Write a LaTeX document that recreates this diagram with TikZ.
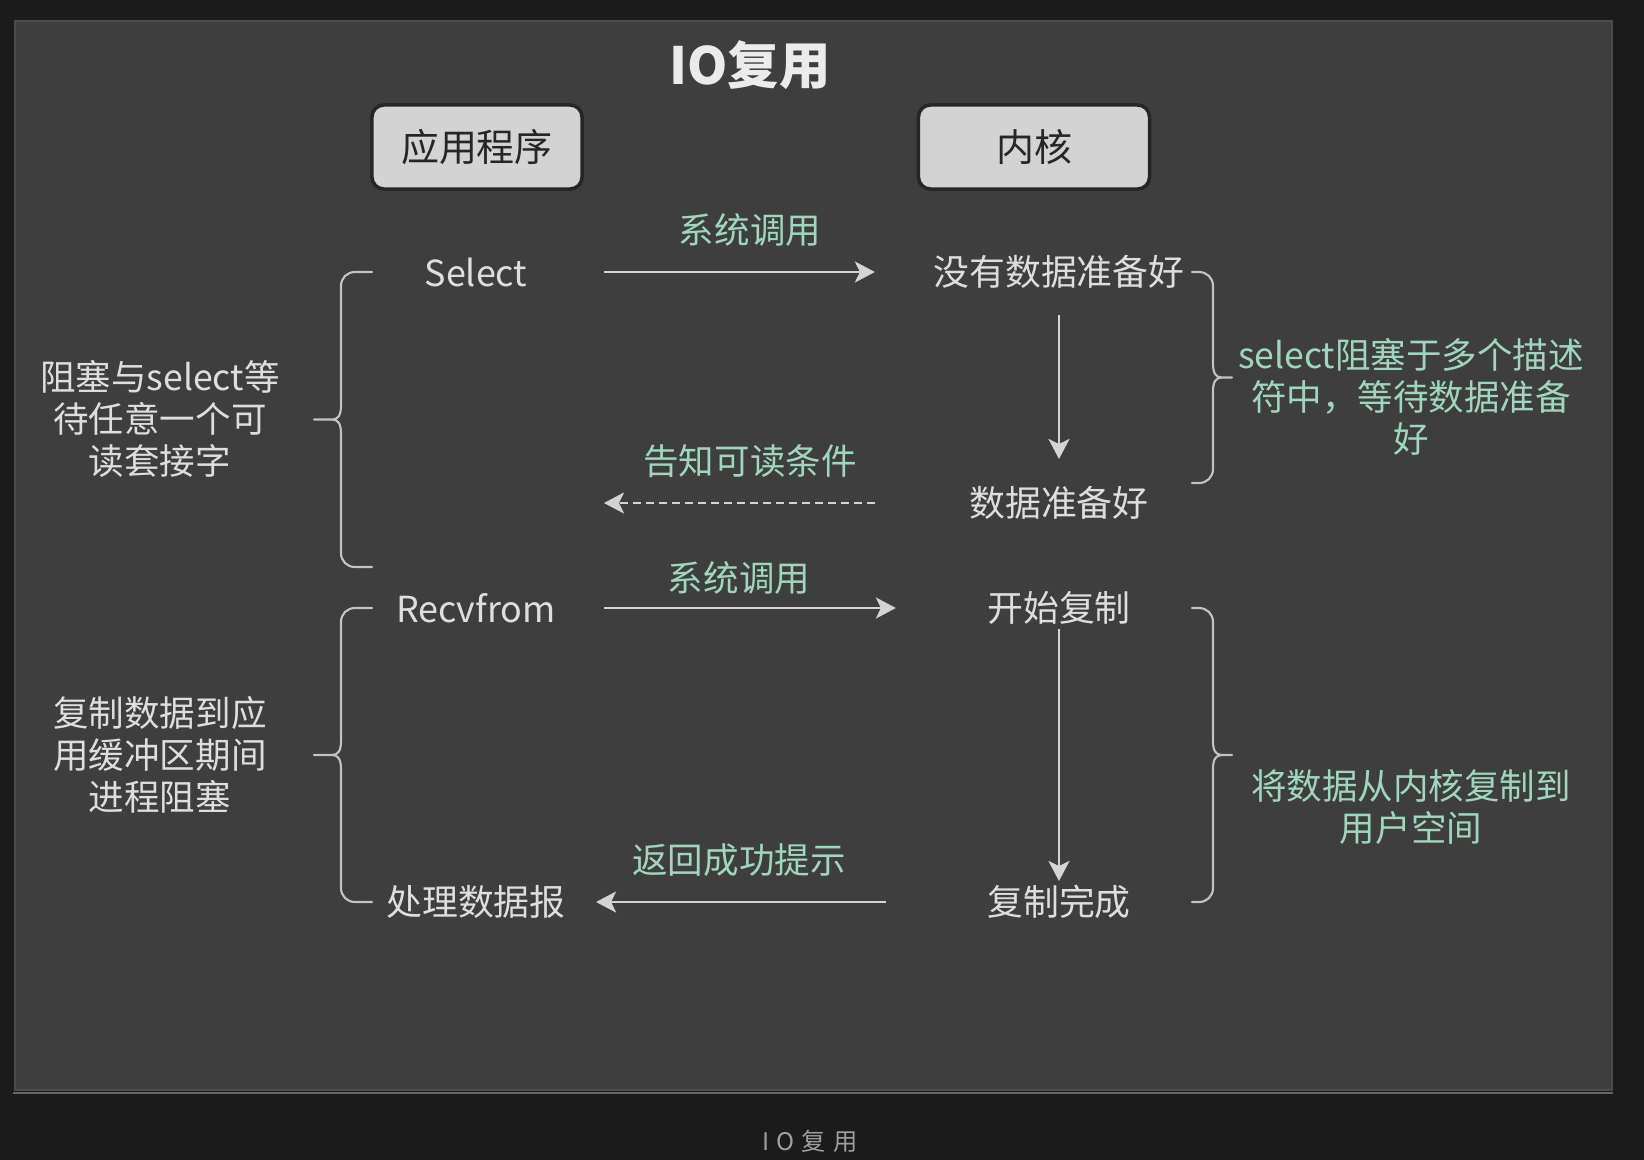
\documentclass[tikz,border=0pt]{standalone}
\usepackage{fontspec}
\setmainfont{Noto Sans CJK SC}
\usepackage{xcolor}
\usepackage{tikz}
\usetikzlibrary{arrows.meta}
\definecolor{outerdark}{HTML}{1B1B1B}
\definecolor{panelgray}{HTML}{3E3E3E}
\definecolor{textgray}{HTML}{DEDEDE}
\definecolor{mintgreen}{HTML}{A0D6BE}
\definecolor{boxgray}{HTML}{D3D3D3}
\definecolor{linegray}{HTML}{D4D4D4}
\tikzstyle{arrow} = [line width=0.7pt, draw=linegray, -{Stealth[length=0.2cm, width=0.21cm, inset=0.05cm]}]
\tikzstyle{bracket} = [line width=0.6pt, draw=linegray!92!black, line cap=round]

\begin{document}
\begin{tikzpicture}[
    x=0.01cm, y=-0.01cm,
    party/.style={rectangle, rounded corners=0.12cm, draw=black!85, line width=1pt, fill=boxgray, minimum height=0.84cm, text=black!85, font=\fontsize{10.8}{13}\selectfont},
    msg/.style={text=textgray, inner sep=0pt, font=\fontsize{10.2}{12}\selectfont},
    call/.style={text=mintgreen, inner sep=0pt, font=\fontsize{10.1}{12}\selectfont},
    note/.style={align=center, inner sep=0pt, font=\fontsize{10.1}{12}\selectfont}]
    \useasboundingbox (0,0) rectangle (1644,1160);
    \fill[outerdark] (0,0) rectangle (1644,1160);
    \filldraw[fill=panelgray, draw=black!70, line width=0.5pt] (15,21) rectangle (1612,1090);
    \draw[gray!80!black, line width=0.8pt] (13,1093) -- (1613,1093);
    \node[text=white!92!black, font=\fontsize{14.6}{17}\selectfont\bfseries] (title) at (750,65) {IO复用};
    \node[party, minimum width=2.1cm] (app) at (477,147) {应用程序};
    \node[party, minimum width=2.31cm] (kernel) at (1034,147) {内核};
    \node[msg] (select) at (476,272) {Select};
    \node[msg] (nodata) at (1059,272) {没有数据准备好};
    \node[msg] (ready) at (1059,503) {数据准备好};
    \node[msg] (recv) at (476,608) {Recvfrom};
    \node[msg] (startcopy) at (1059,608) {开始复制};
    \node[msg] (done) at (1059,902) {复制完成};
    \node[msg] (handle) at (476,902) {处理数据报};
    \coordinate (rdend) at (604,503);
    \node[call] (call1) at (750,230) {系统调用};
    \node[call] (notify) at (750,461) {告知可读条件};
    \node[call] (call2) at (739,578) {系统调用};
    \node[call] (reply) at (739,860) {返回成功提示};
    \draw[arrow, shorten <=1.28cm, shorten >=1.84cm] (select.center) -- (nodata.center);
    \draw[arrow, shorten <=0.43cm, shorten >=0.44cm] (nodata.center) -- (ready.center);
    \draw[arrow, dash pattern=on 0.08cm off 0.05cm, shorten <=1.84cm] (ready.center) -- (rdend);
    \draw[arrow, shorten <=1.28cm, shorten >=1.63cm] (recv.center) -- (startcopy.center);
    \draw[arrow, shorten <=0.21cm, shorten >=0.21cm] (startcopy.center) -- (done.center);
    \draw[arrow, shorten <=1.73cm, shorten >=1.20cm] (done.center) -- (handle.center);
    \foreach \ex/\sx/\tx/\d/\ya/\yb in {372/341/314/-1/272/567, 372/341/314/-1/608/902, 1192/1213/1232/1/272/483, 1192/1213/1232/1/608/902}{
        \pgfmathsetmacro{\ym}{(\ya+\yb)/2}
        \draw[bracket] (\ex,\ya) -- ({\sx-14*(\d)},\ya) .. controls ({\sx-6*(\d)},\ya) and (\sx,{\ya+6}) .. (\sx,{\ya+14})
            -- (\sx,{\ym-14}) .. controls (\sx,{\ym-4}) and ({\sx+3*(\d)},\ym) .. ({\sx+9*(\d)},\ym) -- (\tx,\ym)
            ({\sx+9*(\d)},\ym) .. controls ({\sx+3*(\d)},\ym) and (\sx,{\ym+4}) .. (\sx,{\ym+14})
            -- (\sx,{\yb-14}) .. controls (\sx,{\yb-6}) and ({\sx-6*(\d)},\yb) .. ({\sx-14*(\d)},\yb) -- (\ex,\yb);
    }
    \node[note, text=textgray] (waitnote) at (160,419) {阻塞与select等\\待任意一个可\\读套接字};
    \node[note, text=textgray] (copynote) at (160,755) {复制数据到应\\用缓冲区期间\\进程阻塞};
    \node[note, text=mintgreen] (multinote) at (1411,397) {select阻塞于多个描述\\符中，等待数据准备\\好};
    \node[note, text=mintgreen] (usernote) at (1411,807) {将数据从内核复制到\\用户空间};
    \node[text=gray!75, font=\fontsize{6.9}{8}\selectfont\addfontfeatures{LetterSpace=30}] (caption) at (810,1141) {IO复用};
\end{tikzpicture}
\end{document}
